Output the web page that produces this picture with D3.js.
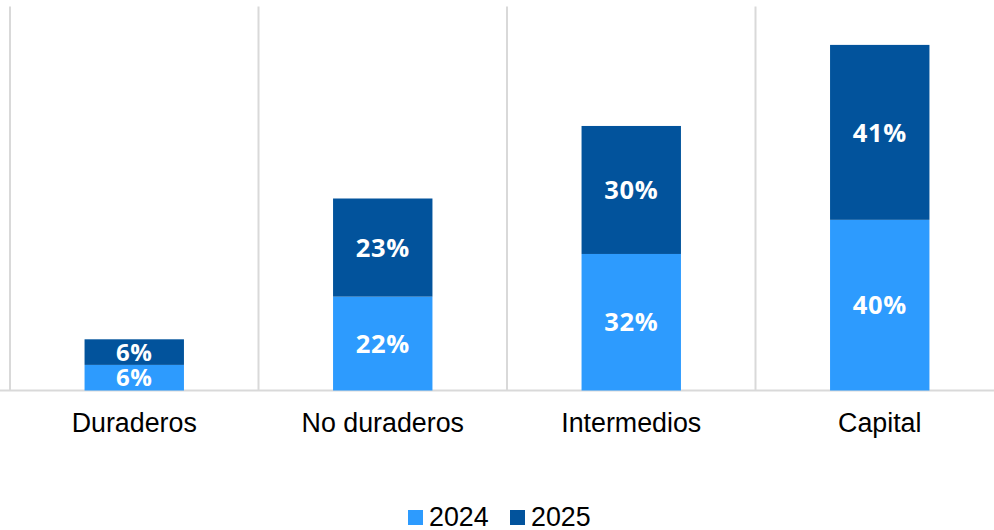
<!DOCTYPE html>
<html>
<head>
<meta charset="utf-8">
<script src="https://cdn.jsdelivr.net/npm/d3@7"></script>
<style>
  html, body { margin: 0; padding: 0; background: #fff; }
  svg { display: block; }
</style>
</head>
<body>
<svg id="chart" width="994" height="530"></svg>
<script>
// data
const categories = ["Duraderos", "No duraderos", "Intermedios", "Capital"];
const series = ["2024", "2025"];
const values2024 = [6, 22, 32, 40];
const values2025 = [6, 23, 30, 41];
const colors = ["#2d9bfe", "#02539c"];

const vis = {

    svg : d3.select("#chart"),

    x : d3.scaleBand()
        .domain(categories)
        .range([10, 1004])
        .paddingInner(0.6)
        .paddingOuter(0.3),

    y : d3.scaleLinear()
        .domain([0, 90])
        .range([390.5, 6.5]),

    grid : function() {

        const edges = categories.map(c => vis.x(c) - vis.x.step() * 0.3);
        edges.push(1004);

        vis.svg.append("g")
          .selectAll("line")
          .data(edges)
          .join("line")
          .attr("x1", d => d)
          .attr("x2", d => d)
          .attr("y1", vis.y(90))
          .attr("y2", vis.y(0))
          .attr("stroke", "#d9d9d9")
          .attr("stroke-width", 2);

        vis.svg.append("line")
          .attr("x1", 0)
          .attr("x2", 994)
          .attr("y1", vis.y(0))
          .attr("y2", vis.y(0))
          .attr("stroke", "#d9d9d9")
          .attr("stroke-width", 2);
    },

    bars : function() {

        const rows = categories.map((c, i) => ({ cat: c, "2024": values2024[i], "2025": values2025[i] }));
        const stacked = d3.stack().keys(series)(rows);

        const layer = vis.svg.append("g")
          .selectAll("g")
          .data(stacked)
          .join("g")
          .attr("fill", (d, i) => colors[i]);

        layer.selectAll("rect")
          .data(d => d)
          .join("rect")
          .attr("x", d => vis.x(d.data.cat))
          .attr("width", vis.x.bandwidth())
          .attr("y", d => vis.y(d[1]))
          .attr("height", d => vis.y(d[0]) - vis.y(d[1]));

        layer.selectAll("text")
          .data(d => d)
          .join("text")
          .attr("x", d => vis.x(d.data.cat) + vis.x.bandwidth() / 2)
          .attr("y", d => (vis.y(d[0]) + vis.y(d[1])) / 2)
          .attr("dy", "0.36em")
          .attr("text-anchor", "middle")
          .attr("fill", "#fff")
          .attr("font-family", "'Open Sans', sans-serif")
          .attr("font-weight", 700)
          .attr("font-size", d => (d[1] - d[0]) < 10 ? 24 : 25.5)
          .attr("letter-spacing", 0.6)
          .text(d => (d[1] - d[0]) + "%");
    },

    axis : function() {

        vis.svg.append("g")
          .selectAll("text")
          .data(categories)
          .join("text")
          .attr("x", d => vis.x(d) + vis.x.bandwidth() / 2)
          .attr("y", 432)
          .attr("text-anchor", "middle")
          .attr("fill", "#000")
          .attr("font-family", "'Liberation Sans', Arial, sans-serif")
          .attr("font-size", 26.8)
          .text(d => d);
    },

    legend : function() {

        const pos = [408, 510];

        const item = vis.svg.append("g")
          .selectAll("g")
          .data(series)
          .join("g")
          .attr("transform", (d, i) => `translate(${pos[i]},0)`);

        item.append("rect")
          .attr("y", 510)
          .attr("width", 15)
          .attr("height", 15)
          .attr("fill", (d, i) => colors[i]);

        item.append("text")
          .attr("x", 21)
          .attr("y", 525.5)
          .attr("fill", "#000")
          .attr("font-family", "'Liberation Sans', Arial, sans-serif")
          .attr("font-size", 26.8)
          .text(d => d);
    },

    init : function() {
        vis.grid();
        vis.bars();
        vis.axis();
        vis.legend();
    }
};

vis.init();
</script>
</body>
</html>
